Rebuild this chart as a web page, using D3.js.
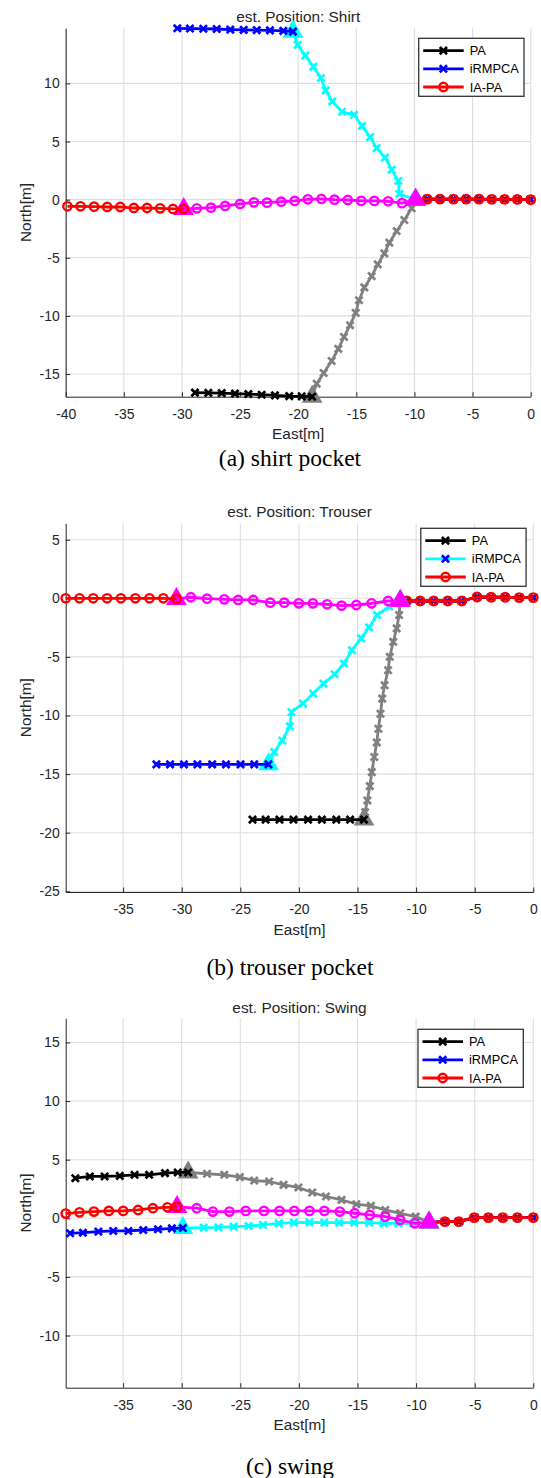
<!DOCTYPE html>
<meta charset="utf-8">
<head>
  <title>est. Position</title>
  <style>
    body {
      margin: 0;
      background: #fff;
    }
    svg {
      display: block;
    }
    .ttl, .lbl {
      font-family: "Liberation Sans", Arial, Helvetica, sans-serif;
      font-size: 15.4px;
      fill: #262626;
    }
    .leg text {
      font-family: "Liberation Sans", Arial, Helvetica, sans-serif;
      font-size: 12.8px;
      fill: #000;
    }
    .cap {
      font-family: "Liberation Serif", "Times New Roman", serif;
      font-size: 23.5px;
      fill: #000;
    }
  </style>
  <script src="https://d3js.org/d3.v7.min.js"></script>
</head>

<body>
  <svg id="fig" width="541" height="1478"></svg>

  <script>
// ---- labels and ticks ----
var seriesNames = ['PA', 'iRMPCA', 'IA-PA'];
var panelTitles = ['est. Position: Shirt', 'est. Position: Trouser', 'est. Position: Swing'];
var panelCaptions = ['(a) shirt pocket', '(b) trouser pocket', '(c) swing'];
var xTicksShirt = [-40, -35, -30, -25, -20, -15, -10, -5, 0];
var xTicksWide = [-35, -30, -25, -20, -15, -10, -5, 0];
var yTicksShirt = [-15, -10, -5, 0, 5, 10];
var yTicksTrouser = [-25, -20, -15, -10, -5, 0, 5];
var yTicksSwing = [-10, -5, 0, 5, 10, 15];

// ---- shirt pocket: [East, North] ----
var shirtStart = [[0, 0], [-1.15, 0.02], [-2.25, 0.03], [-3.35, 0.03], [-4.45, 0.05], [-5.55, 0.05],
  [-6.65, 0.05], [-7.8, 0.05], [-8.9, 0.05], [-9.9, 0]];
var shirtPATurn = [[-9.9, 0], [-10.24, -0.74], [-10.87, -1.75], [-11.53, -2.7], [-12.16, -3.7], [-12.59, -4.62],
  [-13.16, -5.57], [-13.68, -6.58], [-14.31, -7.55], [-14.77, -8.65], [-15.05, -9.74], [-15.54, -10.8],
  [-16.06, -11.81], [-16.55, -12.84], [-17.12, -13.88], [-17.81, -14.91], [-18.41, -15.83], [-18.8, -16.95]];
var shirtPAEnd = [[-18.8, -16.95], [-19.7, -16.92], [-20.77, -16.9], [-22.0, -16.84], [-23.14, -16.78],
  [-24.29, -16.72], [-25.44, -16.69], [-26.58, -16.64], [-27.73, -16.62], [-28.88, -16.6]];
var shirtRMTurn = [[-9.9, 0], [-11.3, 0.49], [-11.39, 1.61], [-11.96, 2.59], [-12.53, 3.62], [-13.25, 4.43],
  [-13.82, 5.38], [-14.51, 6.35], [-15.2, 7.3], [-16.23, 7.56], [-17.07, 8.45], [-17.63, 9.4],
  [-18.04, 10.47], [-18.7, 11.44], [-19.39, 12.39], [-20.04, 13.31], [-20.45, 14.45]];
var shirtRMEnd = [[-20.45, 14.45], [-21.28, 14.52], [-22.43, 14.56], [-23.57, 14.58], [-24.69, 14.6],
  [-25.84, 14.63], [-27.01, 14.68], [-28.16, 14.7], [-29.31, 14.72], [-30.4, 14.74]];
var shirtIATurn = [[-9.9, 0], [-11.07, -0.3], [-12.26, -0.14], [-13.45, -0.11], [-14.58, -0.11], [-15.74, -0.03],
  [-16.88, 0], [-18.0, 0.06], [-19.17, 0.03], [-20.3, -0.11], [-21.46, -0.17], [-22.68, -0.26],
  [-23.81, -0.23], [-25.0, -0.37], [-26.28, -0.54], [-27.5, -0.69], [-28.72, -0.75], [-29.85, -0.8]];
var shirtIAEnd = [[-29.85, -0.8], [-30.77, -0.8], [-31.88, -0.75], [-33.0, -0.72], [-34.14, -0.72],
  [-35.3, -0.63], [-36.43, -0.63], [-37.56, -0.6], [-38.72, -0.57], [-39.85, -0.57]];

// ---- trouser pocket ----
var trouserStart = [[0, 0.06], [-1.2, 0.06], [-2.4, 0.09], [-3.6, 0.09], [-4.8, 0.11], [-6.1, -0.23],
  [-7.3, -0.23], [-8.5, -0.23], [-9.65, -0.23], [-10.8, -0.23], [-11.35, -0.22]];
var trouserPATurn = [[-11.35, -0.22], [-11.45, -1.43], [-11.66, -2.57], [-11.95, -3.71], [-12.25, -4.99],
  [-12.39, -6.14], [-12.69, -7.42], [-12.89, -8.56], [-13.04, -9.85], [-13.22, -11.13], [-13.36, -12.3],
  [-13.57, -13.54], [-13.78, -14.83], [-13.95, -16.03], [-14.16, -17.25], [-14.35, -18.25], [-14.45, -18.88]];
var trouserPAEnd = [[-14.45, -18.88], [-15.63, -18.88], [-16.81, -18.88], [-18.04, -18.88], [-19.22, -18.88],
  [-20.46, -18.88], [-21.66, -18.88], [-22.84, -18.88], [-23.96, -18.88]];
var trouserRMTurn = [[-11.35, -0.22], [-12.3, -0.7], [-13.33, -1.43], [-14.01, -2.48], [-14.69, -3.42],
  [-15.48, -4.42], [-16.16, -5.57], [-16.95, -6.48], [-17.9, -7.28], [-18.78, -8.13], [-19.66, -8.99],
  [-20.63, -9.7], [-20.78, -10.93], [-21.42, -12.13], [-22.1, -13.12], [-22.6, -14.17]];
var trouserRMEnd = [[-22.6, -14.17], [-23.81, -14.17], [-24.98, -14.17], [-26.22, -14.17], [-27.4, -14.17],
  [-28.66, -14.17], [-29.81, -14.17], [-30.99, -14.17], [-32.16, -14.17]];
var trouserIATurn = [[-11.35, -0.22], [-12.39, -0.23], [-13.8, -0.43], [-15.1, -0.57], [-16.36, -0.63],
  [-17.6, -0.51], [-18.81, -0.43], [-20.01, -0.43], [-21.25, -0.37], [-22.45, -0.37], [-23.9, -0.14],
  [-25.19, -0.14], [-26.37, -0.09], [-27.84, -0.03], [-29.22, 0.09], [-30.45, -0.05]];
var trouserIAEnd = [[-30.45, -0.05], [-31.57, 0], [-32.75, 0], [-33.96, 0], [-35.19, 0], [-36.37, 0],
  [-37.55, 0], [-38.72, 0], [-39.9, 0]];

// ---- swing ----
var swingStart = [[0, 0.06], [-1.36, 0.06], [-2.6, 0.06], [-3.83, 0.06], [-5.04, 0.06], [-6.36, -0.29],
  [-7.54, -0.29], [-8.9, -0.35]];
var swingPATurn = [[-8.9, -0.35], [-10.04, 0.14], [-11.36, 0.43], [-12.63, 0.71], [-13.86, 1.06], [-15.1, 1.2],
  [-16.36, 1.57], [-17.69, 1.86], [-18.86, 2.2], [-20.04, 2.63], [-21.31, 2.85], [-22.54, 3.14],
  [-23.81, 3.22], [-25.04, 3.51], [-26.37, 3.71], [-27.84, 3.8], [-29.45, 3.91]];
var swingPAEnd = [[-29.45, 3.91], [-30.34, 3.91], [-31.43, 3.85], [-32.78, 3.71], [-34.02, 3.71],
  [-35.28, 3.62], [-36.58, 3.57], [-37.84, 3.57], [-39.08, 3.42]];
var swingRMTurn = [[-8.9, -0.35], [-10.24, -0.43], [-11.51, -0.43], [-12.75, -0.43], [-14.01, -0.37],
  [-15.28, -0.37], [-16.57, -0.37], [-17.83, -0.37], [-19.1, -0.34], [-20.42, -0.37], [-21.72, -0.43],
  [-23.07, -0.57], [-24.31, -0.66], [-25.57, -0.71], [-26.87, -0.77], [-28.13, -0.8], [-29.9, -0.83]];
var swingRMEnd = [[-29.9, -0.83], [-30.84, -0.86], [-32.02, -0.94], [-33.28, -1.0], [-34.55, -1.08],
  [-35.84, -1.08], [-37.11, -1.14], [-38.43, -1.23], [-39.52, -1.28]];
var swingIATurn = [[-8.9, -0.35], [-10.1, -0.43], [-11.36, -0.14], [-12.63, 0.14], [-13.95, 0.29],
  [-15.25, 0.43], [-16.51, 0.57], [-17.83, 0.63], [-19.1, 0.63], [-20.39, 0.63], [-21.66, 0.63],
  [-22.98, 0.63], [-24.54, 0.63], [-25.93, 0.57], [-27.34, 0.57], [-28.72, 0.86], [-30.4, 0.97]];
var swingIAEnd = [[-30.4, 0.97], [-31.22, 0.94], [-32.46, 0.86], [-33.72, 0.71], [-34.99, 0.63],
  [-36.22, 0.63], [-37.49, 0.57], [-38.72, 0.51], [-39.9, 0.4]];

// ---- styles ----
var styles = {
  'PA':     {main: '#000000', turn: '#808080', marker: 'x'},
  'iRMPCA': {main: '#0000ff', turn: '#00ffff', marker: 'x'},
  'IA-PA':  {main: '#ff0000', turn: '#ff00ff', marker: 'o'}
};

var panels = [
  {title: panelTitles[0], caption: panelCaptions[0], xTicks: xTicksShirt, yTicks: yTicksShirt,
   left: 65.7, right: 530.7, top: 28.3, bottom: 396.7, xDomain: [-40, 0], yDomain: [-16.95, 14.74],
   titleY: 22, captionY: 466, legendX: 418.7, legendY: 38.3, rmLegendLine: '#0000ff',
   series: {'PA': [shirtStart, shirtPATurn, shirtPAEnd], 'iRMPCA': [shirtStart, shirtRMTurn, shirtRMEnd],
            'IA-PA': [shirtStart, shirtIATurn, shirtIAEnd]}},
  {title: panelTitles[1], caption: panelCaptions[1], xTicks: xTicksWide, yTicks: yTicksTrouser,
   left: 65.7, right: 533.3, top: 523.3, bottom: 892, xDomain: [-39.9, 0], yDomain: [-25.06, 6.40],
   titleY: 517, captionY: 975, legendX: 420.8, legendY: 528.3, rmLegendLine: '#00ffff',
   series: {'PA': [trouserStart, trouserPATurn, trouserPAEnd], 'iRMPCA': [trouserStart, trouserRMTurn, trouserRMEnd],
            'IA-PA': [trouserStart, trouserIATurn, trouserIAEnd]}},
  {title: panelTitles[2], caption: panelCaptions[2], xTicks: xTicksWide, yTicks: yTicksSwing,
   left: 65.7, right: 533.3, top: 1018.3, bottom: 1387.7, xDomain: [-39.9, 0], yDomain: [-14.45, 17.06],
   titleY: 1013, captionY: 1473.5, legendX: 418, legendY: 1029.3, rmLegendLine: '#0000ff',
   series: {'PA': [swingStart, swingPATurn, swingPAEnd], 'iRMPCA': [swingStart, swingRMTurn, swingRMEnd],
            'IA-PA': [swingStart, swingIATurn, swingIAEnd]}}
];

var svg = d3.select('#fig');
svg.append('rect').attr('width', 541).attr('height', 1478).attr('fill', '#fff');

var triPath = 'M0,-12L10.4,6L-10.4,6Z';
var crossPath = 'M-3.6,-3.6L3.6,3.6M-3.6,3.6L3.6,-3.6';

function addLine(g, pts, color, kind, x, y) {
  var line = d3.line().x(function(d) { return x(d[0]); }).y(function(d) { return y(d[1]); });
  g.append('path')
    .attr('d', line(pts))
    .attr('fill', 'none')
    .attr('stroke', color)
    .attr('stroke-width', 2.8)
    .attr('stroke-linejoin', 'round');
  addMarkers(g, pts, color, kind, x, y);
}

function addMarkers(g, pts, color, kind, x, y) {
  if (kind === 'o') {
    g.selectAll(null).data(pts).enter().append('circle')
      .attr('cx', function(d) { return x(d[0]); })
      .attr('cy', function(d) { return y(d[1]); })
      .attr('r', 4.2)
      .attr('fill', 'none')
      .attr('stroke', color)
      .attr('stroke-width', 2.4);
  } else {
    g.selectAll(null).data(pts).enter().append('path')
      .attr('d', crossPath)
      .attr('transform', function(d) { return 'translate(' + x(d[0]) + ',' + y(d[1]) + ')'; })
      .attr('stroke', color)
      .attr('stroke-width', 2.7);
  }
}

function drawPanel(p) {
  var g = svg.append('g');
  var x = d3.scaleLinear().domain(p.xDomain).range([p.left, p.right]);
  var y = d3.scaleLinear().domain(p.yDomain).range([p.bottom, p.top]);

  // grid
  g.selectAll(null).data(p.xTicks).enter().append('line')
    .attr('x1', function(d) { return x(d); }).attr('x2', function(d) { return x(d); })
    .attr('y1', p.top).attr('y2', p.bottom)
    .attr('stroke', '#dedede').attr('stroke-width', 1.1);
  g.selectAll(null).data(p.yTicks).enter().append('line')
    .attr('y1', function(d) { return y(d); }).attr('y2', function(d) { return y(d); })
    .attr('x1', p.left).attr('x2', p.right)
    .attr('stroke', '#dedede').attr('stroke-width', 1.1);

  // axes
  var fmt = function(d) { return String(d); };
  var gx = g.append('g')
    .attr('transform', 'translate(0,' + p.bottom + ')')
    .call(d3.axisBottom(x).tickValues(p.xTicks).tickFormat(fmt).tickSizeInner(-4.5).tickSizeOuter(0).tickPadding(12));
  var gy = g.append('g')
    .attr('transform', 'translate(' + p.left + ',0)')
    .call(d3.axisLeft(y).tickValues(p.yTicks).tickFormat(fmt).tickSizeInner(-4.5).tickSizeOuter(0).tickPadding(6));
  [gx, gy].forEach(function(a) {
    a.attr('color', '#262626')
      .attr('font-family', '"Liberation Sans", Arial, Helvetica, sans-serif')
      .attr('font-size', 14);
  });

  g.append('text').attr('class', 'ttl')
    .attr('x', (p.left + p.right) / 2).attr('y', p.titleY)
    .attr('text-anchor', 'middle').attr('fill', '#000').text(p.title);
  g.append('text').attr('class', 'lbl')
    .attr('x', (p.left + p.right) / 2).attr('y', p.bottom + 42.5)
    .attr('text-anchor', 'middle').text('East[m]');
  g.append('text').attr('class', 'lbl')
    .attr('transform', 'translate(31,' + (p.top + p.bottom) / 2 + ') rotate(-90)')
    .attr('text-anchor', 'middle').text('North[m]');
  g.append('text').attr('class', 'cap')
    .attr('x', 290).attr('y', p.captionY)
    .attr('text-anchor', 'middle').text(p.caption);

  // trajectories
  seriesNames.forEach(function(name) {
    var st = styles[name];
    var segs = p.series[name];
    addLine(g, segs[0], st.main, st.marker, x, y);
    addLine(g, segs[1], st.turn, st.marker, x, y);
    var ends = [segs[1][0], segs[1][segs[1].length - 1]];
    g.selectAll(null).data(ends).enter().append('path')
      .attr('d', triPath)
      .attr('transform', function(d) { return 'translate(' + x(d[0]) + ',' + y(d[1]) + ')'; })
      .attr('fill', st.turn);
    addLine(g, segs[2], st.main, st.marker, x, y);
  });

  // legend
  var lg = g.append('g').attr('class', 'leg')
    .attr('transform', 'translate(' + p.legendX + ',' + p.legendY + ')');
  lg.append('rect').attr('width', 105.3).attr('height', 58)
    .attr('fill', '#fff').attr('stroke', '#333').attr('stroke-width', 1.3);
  seriesNames.forEach(function(name, i) {
    var st = styles[name];
    var row = lg.append('g').attr('transform', 'translate(0,' + (12.3 + i * 18.2) + ')');
    var lineColor = name === 'iRMPCA' ? p.rmLegendLine : st.main;
    row.append('line').attr('x1', 4.5).attr('x2', 45).attr('y1', 0).attr('y2', 0)
      .attr('stroke', lineColor).attr('stroke-width', 2.8);
    var ls = d3.scaleLinear();
    addMarkers(row, [[24.7, 0]], st.main, st.marker, ls, ls);
    row.append('text').attr('x', 51).attr('y', 4.6).text(name);
  });
}

panels.forEach(drawPanel);
  </script>
</body>
</html>
